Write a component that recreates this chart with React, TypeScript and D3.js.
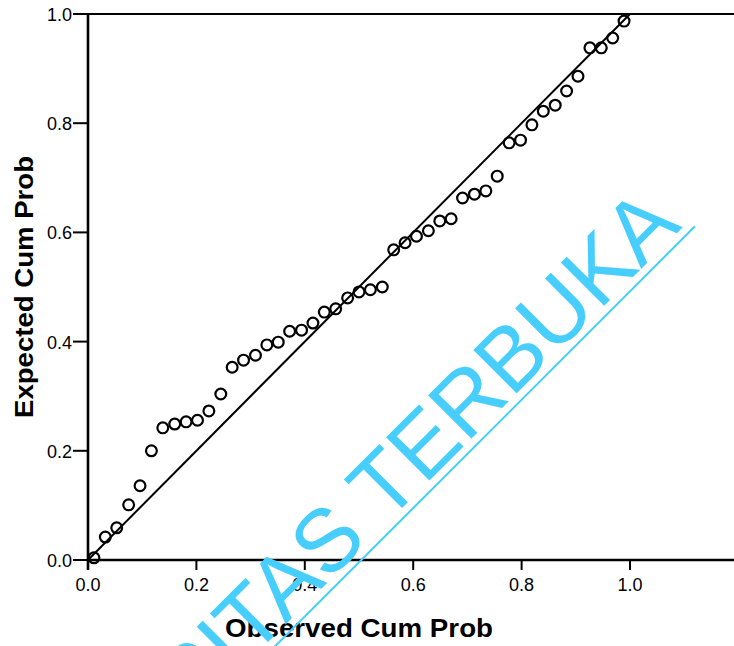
import React, { useRef, useEffect } from 'react';
import * as d3 from 'd3';

const W = 734;
const H = 646;

// observed cumulative probability
const observed = [
  0.011, 0.032, 0.053, 0.075, 0.096, 0.117, 0.138, 0.160, 0.181, 0.202,
  0.223, 0.245, 0.266, 0.287, 0.309, 0.330, 0.351, 0.372, 0.394, 0.415,
  0.436, 0.457, 0.479, 0.500, 0.521, 0.543, 0.564, 0.585, 0.606, 0.628,
  0.649, 0.670, 0.691, 0.713, 0.734, 0.755, 0.777, 0.798, 0.819, 0.840,
  0.862, 0.883, 0.904, 0.926, 0.947, 0.968, 0.989,
];

// expected cumulative probability
const expected = [
  0.004, 0.042, 0.059, 0.101, 0.136, 0.200, 0.242, 0.249, 0.253, 0.256,
  0.273, 0.304, 0.353, 0.366, 0.375, 0.394, 0.399, 0.419, 0.421, 0.434,
  0.454, 0.460, 0.480, 0.491, 0.495, 0.500, 0.568, 0.581, 0.593, 0.603,
  0.621, 0.625, 0.663, 0.670, 0.676, 0.703, 0.764, 0.769, 0.797, 0.822,
  0.833, 0.859, 0.886, 0.938, 0.938, 0.956, 0.987,
];

const xTicks = [0, 0.2, 0.4, 0.6, 0.8, 1.0];
const yTicks = [0, 0.2, 0.4, 0.6, 0.8, 1.0];
const xTitle = 'Observed Cum Prob';
const yTitle = 'Expected Cum Prob';
const watermark = 'UNIVERSITAS TERBUKA';

const App = () => {
  const svgRef = useRef(null);

  useEffect(() => {
    const svg = d3.select(svgRef.current);
    svg.selectAll('*').remove();

    const x = d3.scaleLinear().domain([0, 1.19]).range([88, 733]);
    const y = d3.scaleLinear().domain([0, 1]).range([560, 14]);
    const fmt = d3.format('.1f');
    const font = 'Liberation Sans, Arial, sans-serif';

    svg.append('rect').attr('width', W).attr('height', H).attr('fill', '#fff');

    // frame top line + axes
    svg.append('line')
      .attr('x1', x(0)).attr('x2', W).attr('y1', y(1)).attr('y2', y(1))
      .attr('stroke', '#000').attr('stroke-width', 2.2);
    svg.append('line')
      .attr('x1', x(0)).attr('x2', x(0)).attr('y1', y(1) - 1).attr('y2', y(0) + 10)
      .attr('stroke', '#000').attr('stroke-width', 2.6);
    svg.append('line')
      .attr('x1', x(0)).attr('x2', W).attr('y1', y(0)).attr('y2', y(0))
      .attr('stroke', '#000').attr('stroke-width', 2.6);

    // y ticks
    const yt = svg.append('g').selectAll('g').data(yTicks).enter().append('g');
    yt.append('line')
      .attr('x1', 73).attr('x2', x(0)).attr('y1', d => y(d)).attr('y2', d => y(d))
      .attr('stroke', '#000').attr('stroke-width', 2);
    yt.append('text')
      .attr('x', 72).attr('y', d => y(d) + 7)
      .attr('text-anchor', 'end')
      .attr('font-family', font).attr('font-size', 18)
      .text(d => fmt(d));

    // x ticks
    const xt = svg.append('g').selectAll('g').data(xTicks).enter().append('g');
    xt.append('line')
      .attr('x1', d => x(d)).attr('x2', d => x(d)).attr('y1', y(0)).attr('y2', y(0) + 10)
      .attr('stroke', '#000').attr('stroke-width', 2);
    xt.append('text')
      .attr('x', d => x(d)).attr('y', 591)
      .attr('text-anchor', 'middle')
      .attr('font-family', font).attr('font-size', 18)
      .text(d => fmt(d));

    // axis titles
    svg.append('text')
      .attr('x', x(0.5)).attr('y', 637)
      .attr('text-anchor', 'middle')
      .attr('font-family', font).attr('font-size', 25).attr('font-weight', 'bold')
      .attr('textLength', 268).attr('lengthAdjust', 'spacingAndGlyphs')
      .text(xTitle);
    svg.append('text')
      .attr('transform', `translate(33, ${y(0.5)}) rotate(-90)`)
      .attr('text-anchor', 'middle')
      .attr('font-family', font).attr('font-size', 25).attr('font-weight', 'bold')
      .attr('textLength', 262).attr('lengthAdjust', 'spacingAndGlyphs')
      .text(yTitle);

    // expected (diagonal) line
    svg.append('line')
      .attr('x1', x(0)).attr('y1', y(0)).attr('x2', x(1)).attr('y2', y(1))
      .attr('stroke', '#000').attr('stroke-width', 2);

    // points
    svg.append('g').selectAll('circle')
      .data(observed.map((o, i) => [o, expected[i]]))
      .enter()
      .append('circle')
      .attr('cx', d => x(d[0]))
      .attr('cy', d => y(d[1]))
      .attr('r', 5.4)
      .attr('fill', 'none')
      .attr('stroke', '#000')
      .attr('stroke-width', 2.2);

    // watermark
    const wm = svg.append('g').attr('transform', 'translate(683, 227) rotate(-45)');
    wm.append('text')
      .attr('x', 0).attr('y', 0)
      .attr('text-anchor', 'end')
      .attr('font-family', font).attr('font-size', 89)
      .attr('fill', '#47CEFD')
      .text(watermark);
    wm.append('line')
      .attr('x1', 9).attr('x2', -900).attr('y1', 8).attr('y2', 8)
      .attr('stroke', '#47CEFD').attr('stroke-width', 2);
  }, []);

  return (
    <svg
      ref={svgRef}
      width={W}
      height={H}
      style={{ position: 'absolute', left: 0, top: 0, display: 'block' }}
    />
  );
};

export default App;
